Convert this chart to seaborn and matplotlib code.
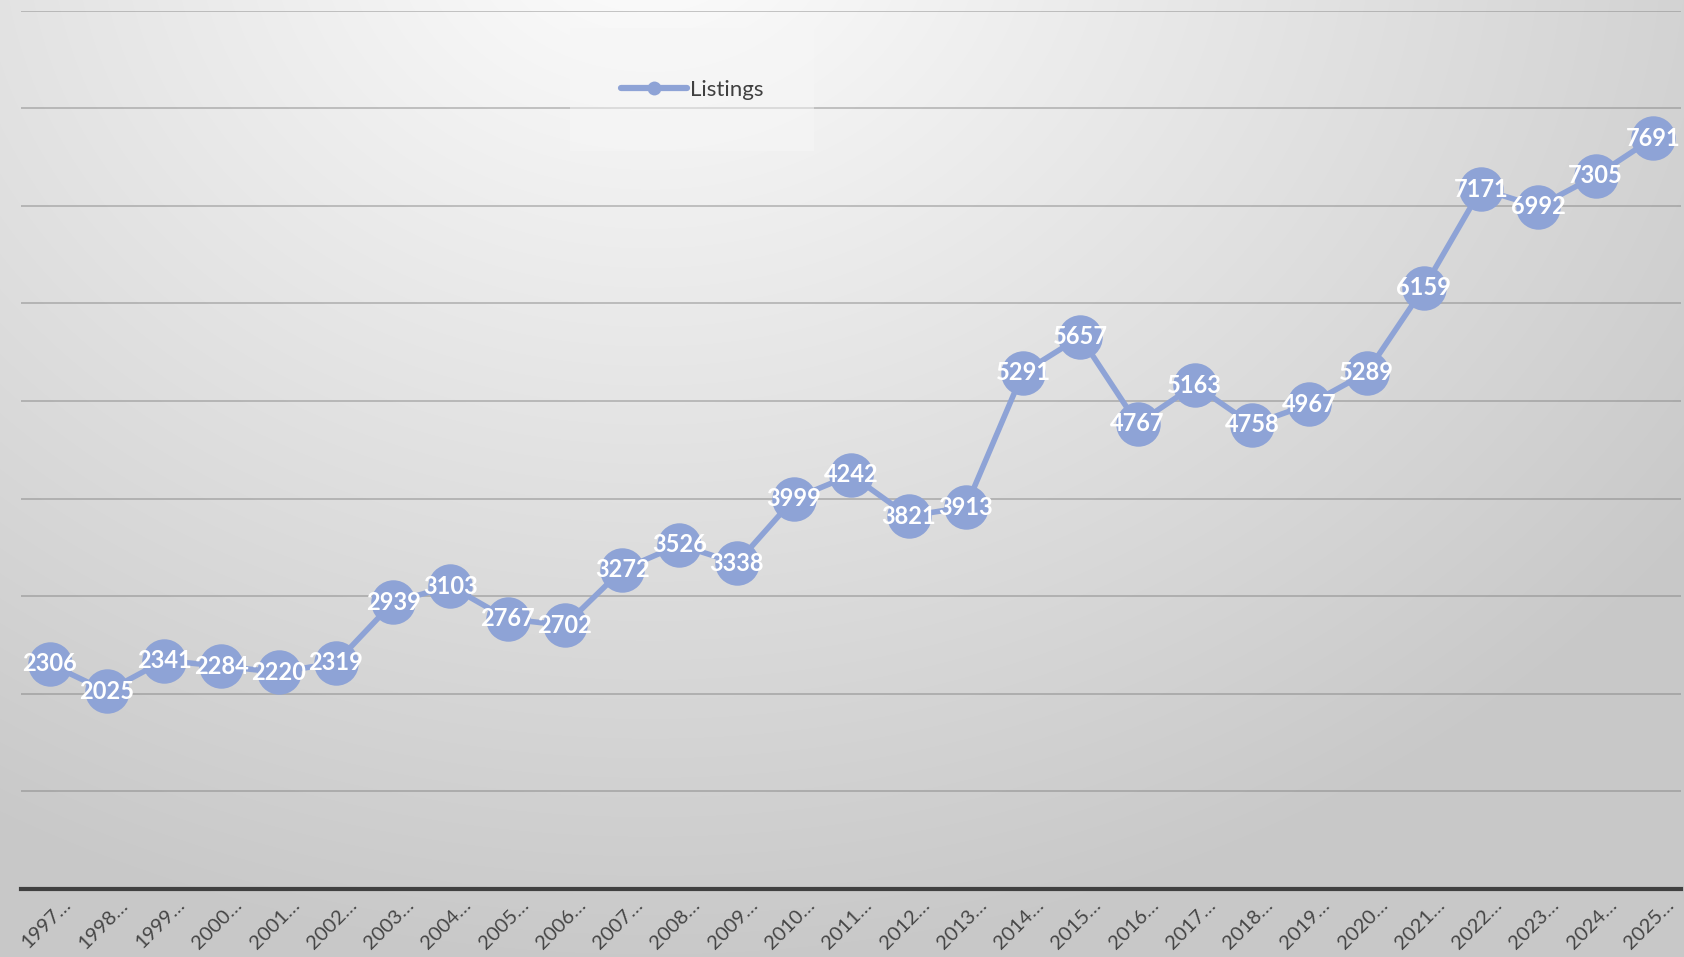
import numpy as np
import pandas as pd
import matplotlib
matplotlib.use("Agg")
import matplotlib.pyplot as plt
import matplotlib.transforms as mtransforms
import seaborn as sns

years = [str(y) for y in range(1997, 2026)]
tick_labels = [y + "…" for y in years]
listings = [2306, 2025, 2341, 2284, 2220, 2319, 2939, 3103, 2767, 2702,
            3272, 3526, 3338, 3999, 4242, 3821, 3913, 5291, 5657, 4767,
            5163, 4758, 4967, 5289, 6159, 7171, 6992, 7305, 7691]

df = pd.DataFrame({"x": np.arange(len(years)), "Listings": listings})

sns.set_theme(style="white")
plt.rcParams['font.family'] = ['Lato', 'DejaVu Sans']

fig = plt.figure(figsize=(16.84, 9.57), dpi=100)

# background radial gradient
bg = fig.add_axes([0, 0, 1, 1], zorder=0)
h, w = 957, 1684
yy, xx = np.mgrid[0:h, 0:w]
cx, cy = 650, -80
d = np.sqrt(((xx - cx) / 1300.0) ** 2 + ((yy - cy) / 1050.0) ** 2)
d = np.clip(d, 0, 1)
val = 0.995 - 0.21 * d
img = np.dstack([val, val, val])
bg.imshow(img, aspect="auto", extent=[0, 1, 0, 1])
bg.axis("off")

ax = fig.add_axes([0.0125, 0.071, 0.986, 0.918], zorder=1)
ax.patch.set_alpha(0)
color = "#8EA3D6"
sns.lineplot(data=df, x="x", y="Listings", ax=ax, color=color, linewidth=4,
             marker="o", markersize=32, markeredgewidth=0, label="Listings",
             legend=False)

for xi, v in zip(df["x"], df["Listings"]):
    ax.text(xi, v, str(v), ha="center", va="center", color="white",
            fontsize=17, fontweight="bold", zorder=5)

ax.set_xlim(-0.5, len(years) - 0.5)
ax.set_ylim(0, 9000)
ax.set_yticks(range(0, 9001, 1000))
ax.set_yticklabels([])
ax.tick_params(axis="y", length=0)
ax.yaxis.grid(True, color="#7a7a7a", alpha=0.45, linewidth=1.3)
ax.set_axisbelow(True)
ax.set_xticks(df["x"])
ax.set_xticklabels(tick_labels, rotation=45, ha="right", rotation_mode="anchor",
                   fontsize=14.5, color="#454545")
ax.tick_params(axis="x", length=0, pad=5)
offset = mtransforms.ScaledTranslation(12 / 100, 0, fig.dpi_scale_trans)
for lbl in ax.get_xticklabels():
    lbl.set_transform(lbl.get_transform() + offset)
ax.set_xlabel("")
ax.set_ylabel("")
for s in ["top", "right", "left"]:
    ax.spines[s].set_visible(False)
ax.spines["bottom"].set_color("#404040")
ax.spines["bottom"].set_linewidth(3)

# legend
from matplotlib.lines import Line2D
handle = Line2D([0], [0], color=color, linewidth=4.5, marker="o", markersize=10,
                markeredgewidth=0)
leg = ax.legend([handle], ["Listings"], loc="center", bbox_to_anchor=(0.404, 0.91),
                frameon=True, fontsize=16, handlelength=3.0, handletextpad=0.1,
                borderpad=2.3, borderaxespad=0)
leg.get_frame().set_facecolor("#f6f6f6")
leg.get_frame().set_alpha(0.5)
leg.get_frame().set_edgecolor("none")
leg.get_frame().set_boxstyle("square", pad=0)
for t in leg.get_texts():
    t.set_color("#404040")

fig.savefig("out.png", dpi=100)
